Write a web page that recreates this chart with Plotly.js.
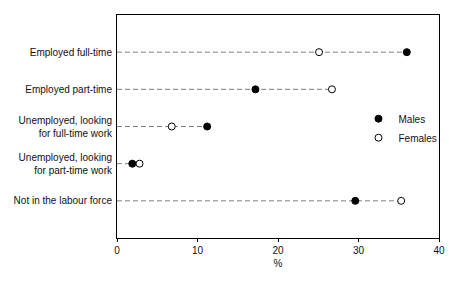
<!DOCTYPE html>
<html>
<head>
<meta charset="utf-8">
<script src="https://cdn.plot.ly/plotly-3.0.1.min.js"></script>
<style>html,body{margin:0;padding:0;background:#fff;}#chart{width:461px;height:283px;}</style>
</head>
<body>
<div id="chart"></div>
<script>
const categories = ["Employed full-time", "Employed part-time", "Unemployed, looking<br>for full-time work", "Unemployed, looking<br>for part-time work", "Not in the labour force"];
const males = [36.0, 17.2, 11.2, 1.9, 29.6];
const females = [25.1, 26.7, 6.8, 2.8, 35.3];
const xTicks = [0, 10, 20, 30, 40];

const lineX = [], lineY = [];
categories.forEach((c, i) => {
  lineX.push(0, Math.max(males[i], females[i]), null);
  lineY.push(c, c, null);
});

const font = {family: "Liberation Sans, Arial, sans-serif", size: 10, color: "#111"};

const traces = [
  {type: "scatter", mode: "lines", x: lineX, y: lineY, showlegend: false, hoverinfo: "skip",
   line: {color: "#808080", width: 1, dash: "5px,3px"}},
  {type: "scatter", mode: "markers", name: "Males", x: males, y: categories,
   marker: {color: "#000", size: 7, line: {color: "#000", width: 1}}},
  {type: "scatter", mode: "markers", name: "Females", x: females, y: categories,
   marker: {color: "#fff", size: 7, line: {color: "#000", width: 1}}}
];

const layout = {
  width: 461, height: 283,
  margin: {l: 116.5, r: 22, t: 15, b: 45},
  paper_bgcolor: "#fff", plot_bgcolor: "#fff",
  font: font,
  showlegend: true,
  legend: {x: 0.75, y: 0.60, xanchor: "left", yanchor: "top", font: {family: font.family, size: 10, color: "#111"},
           bgcolor: "rgba(0,0,0,0)", borderwidth: 0, tracegroupgap: 0},
  xaxis: {range: [0, 40], tickvals: xTicks, ticktext: xTicks.map(String), ticks: "outside", ticklen: 3,
          tickcolor: "#000", showgrid: false, zeroline: false, showline: true, linecolor: "#000", linewidth: 1,
          mirror: true, title: {text: "%", font: {size: 10}, standoff: 4}, fixedrange: true},
  yaxis: {type: "category", categoryorder: "array", categoryarray: categories, range: [5, -1],
          ticks: "", showgrid: false, zeroline: false, showline: true, linecolor: "#000", linewidth: 1,
          mirror: true, ticklabelstandoff: 2, fixedrange: true}
};

Plotly.newPlot("chart", traces, layout, {staticPlot: true, displayModeBar: false});
</script>
</body>
</html>
